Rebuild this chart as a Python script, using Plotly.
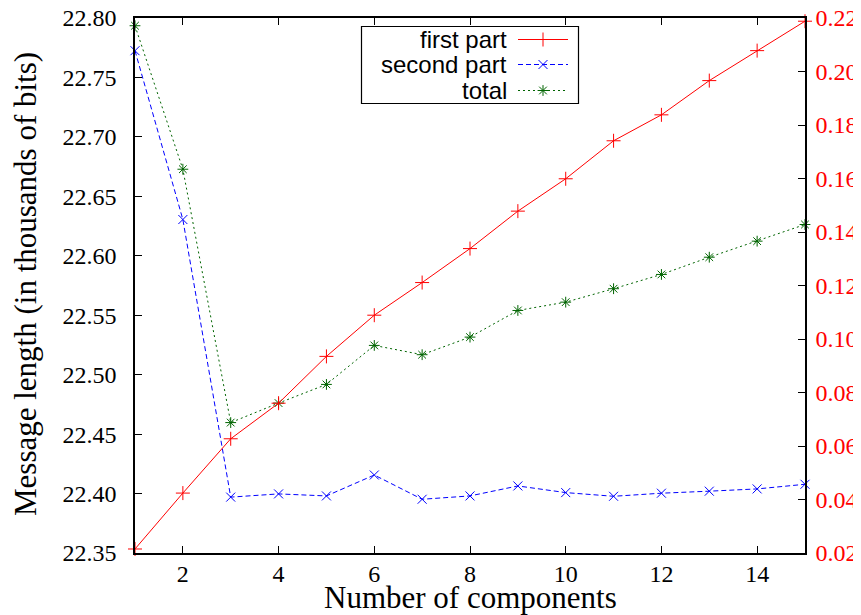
import plotly.graph_objects as go

# ---- data ----
components = list(range(1, 16))
first_part = [0.0215, 0.0424, 0.0627, 0.0760, 0.0935, 0.1089, 0.1211, 0.1338,
              0.1478, 0.1599, 0.1741, 0.1838, 0.1966, 0.2078, 0.2188]
second_part = [22.7725, 22.6305, 22.3970, 22.3997, 22.3980, 22.4156, 22.3952, 22.3980,
               22.4064, 22.4008, 22.3977, 22.4003, 22.4020, 22.4039, 22.4078]
total = [22.7935, 22.6728, 22.4597, 22.4761, 22.4918, 22.5246, 22.5168, 22.5316,
         22.5540, 22.5610, 22.5723, 22.5843, 22.5988, 22.6123, 22.6263]

series_names = ["first part", "second part", "total"]
x_ticks = [2, 4, 6, 8, 10, 12, 14]
y_ticks = [22.35, 22.40, 22.45, 22.50, 22.55, 22.60, 22.65, 22.70, 22.75, 22.80]
y2_ticks = [0.02, 0.04, 0.06, 0.08, 0.10, 0.12, 0.14, 0.16, 0.18, 0.20, 0.22]
x_title = "Number of components"
y_title = "Message length (in thousands of bits)"

RED = "#ff0000"
BLUE = "#0000ff"
GREEN = "#006400"
SERIF = "Liberation Serif, Times New Roman, serif"
SANS = "Liberation Sans, Arial, sans-serif"

styles = {
    "first part": dict(color=RED, dash="solid", symbol="cross-thin-open", size=10),
    "second part": dict(color=BLUE, dash="5px,3px", symbol="x-thin-open", size=9),
    "total": dict(color=GREEN, dash="2px,3px", symbol="asterisk-open", size=9),
}

fig = go.Figure()

fig.add_trace(go.Scatter(
    x=components, y=second_part, name="second part", mode="lines+markers",
    line=dict(color=BLUE, width=1, dash=styles["second part"]["dash"]),
    marker=dict(symbol="x-thin-open", size=9, color=BLUE, line=dict(color=BLUE, width=1)),
    xaxis="x", yaxis="y", cliponaxis=False, showlegend=False))
fig.add_trace(go.Scatter(
    x=components, y=total, name="total", mode="lines+markers",
    line=dict(color=GREEN, width=1, dash=styles["total"]["dash"]),
    marker=dict(symbol="asterisk-open", size=9, color=GREEN, line=dict(color=GREEN, width=1)),
    xaxis="x", yaxis="y", cliponaxis=False, showlegend=False))
fig.add_trace(go.Scatter(
    x=components, y=first_part, name="first part", mode="lines+markers",
    line=dict(color=RED, width=1),
    marker=dict(symbol="cross-thin-open", size=10, color=RED, line=dict(color=RED, width=1)),
    xaxis="x", yaxis="y2", cliponaxis=False, showlegend=False))

# ---- geometry (page body adds an 8px margin around the figure) ----
OFF = 8
W, H = 861 - OFF, 615 - OFF
ML, MR, MT, MB = 135 - OFF, 56, 18 - OFF, 62
PW, PH = W - ML - MR, H - MT - MB

# legend box in page pixels
box_l, box_r, box_t, box_b = 361.5, 578.5, 26.5, 103.5
row_y = [39.5, 64.5, 90.5]
text_right = 508
samp_l, samp_m, samp_r = 518, 543, 568


def px_x(p):
    return (p - OFF - ML) / PW


def px_y(p):
    return (H - MB - (p - OFF)) / PH


fig.add_shape(type="rect", xref="paper", yref="paper",
              x0=px_x(box_l), x1=px_x(box_r), y0=px_y(box_b), y1=px_y(box_t),
              line=dict(color="black", width=1.2), fillcolor="rgba(0,0,0,0)", layer="above")

for name, ry in zip(series_names, row_y):
    st = styles[name]
    fig.add_trace(go.Scatter(
        x=[samp_l, samp_r], y=[ry, ry], mode="lines",
        line=dict(color=st["color"], width=1, dash=st["dash"]),
        xaxis="x3", yaxis="y3", showlegend=False, hoverinfo="skip", cliponaxis=False))
    fig.add_trace(go.Scatter(
        x=[samp_m], y=[ry], mode="markers",
        marker=dict(symbol=st["symbol"], size=st["size"], color=st["color"],
                    line=dict(color=st["color"], width=1)),
        xaxis="x3", yaxis="y3", showlegend=False, hoverinfo="skip", cliponaxis=False))
    fig.add_annotation(x=text_right, y=ry, xref="x3", yref="y3", text=name,
                       showarrow=False, xanchor="right", yanchor="middle",
                       borderpad=0,
                       font=dict(family=SANS, size=24, color="black"))

# axis titles as annotations (exact placement)
fig.add_annotation(x=px_x(470), y=px_y(597), xref="paper", yref="paper", text=x_title,
                   showarrow=False, xanchor="center", yanchor="middle", borderpad=0,
                   font=dict(family=SERIF, size=31, color="black"))
fig.add_annotation(x=px_x(25), y=px_y(284), xref="paper", yref="paper", text=y_title,
                   textangle=-90, showarrow=False, xanchor="center", yanchor="middle",
                   borderpad=0, font=dict(family=SERIF, size=31, color="black"))

axis_common = dict(showgrid=False, zeroline=False, showline=True, linecolor="black",
                   linewidth=1.5, ticks="inside", ticklen=7, tickwidth=1, tickcolor="black",
                   automargin=False, ticklabeloverflow="allow")

fig.update_layout(
    width=W, height=H,
    margin=dict(l=ML, r=MR, t=MT, b=MB, pad=0, autoexpand=False),
    paper_bgcolor="white", plot_bgcolor="white",
    showlegend=False,
    xaxis=dict(range=[1, 15], tickvals=x_ticks, mirror="ticks",
               tickfont=dict(family=SERIF, size=24, color="black"),
               ticklabelstandoff=-2,
               **axis_common),
    yaxis=dict(range=[22.35, 22.80], tickvals=y_ticks, tickformat=".2f",
               tickfont=dict(family=SERIF, size=24, color="black"),
               ticklabelstandoff=12,
               **axis_common),
    yaxis2=dict(range=[0.02, 0.22], tickvals=y2_ticks, tickformat=".2f",
                overlaying="y", side="right",
                tickfont=dict(family=SERIF, size=24, color=RED),
                ticklabelstandoff=4,
                **axis_common),
    xaxis3=dict(domain=[px_x(box_l), px_x(box_r)], range=[box_l, box_r],
                anchor="y3", visible=False),
    yaxis3=dict(domain=[px_y(box_b), px_y(box_t)], range=[box_b, box_t],
                anchor="x3", visible=False),
)

fig.write_html("out.html")
